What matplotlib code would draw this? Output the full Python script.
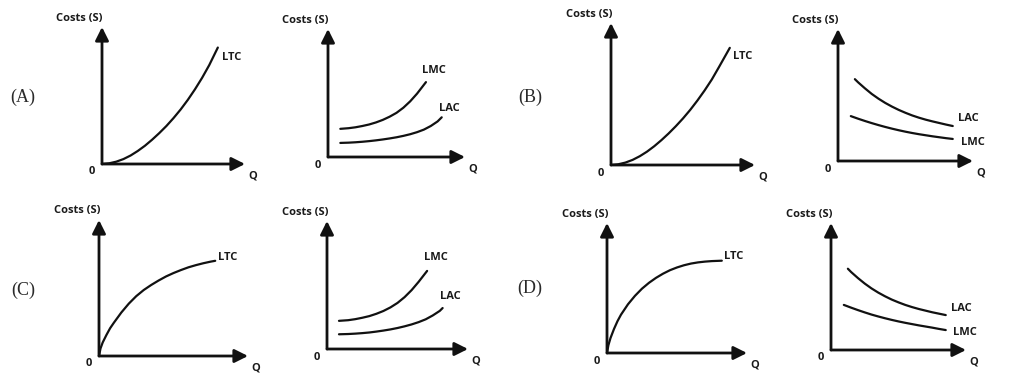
import matplotlib
matplotlib.use("Agg")
import matplotlib.pyplot as plt

# ---------------- data (axis units 0..10) ----------------
panel_letters = ["(A)", "(B)", "(C)", "(D)"]
y_axis_label = "Costs (S)"
x_axis_label = "Q"
origin_label = "0"

# LTC curves (left diagrams)
ltc_a_x = [0, 0.5, 1, 1.5, 2, 2.5, 3, 3.5, 4, 4.5, 5, 5.5, 6, 6.5, 7, 7.5, 8.1]
ltc_a_y = [0, 0.05, 0.17, 0.36, 0.62, 0.95, 1.33, 1.77, 2.25, 2.77, 3.35, 3.98, 4.68, 5.45, 6.29, 7.22, 8.5]
ltc_b_x = [0, 0.5, 1, 1.5, 2, 2.5, 3, 3.5, 4, 4.5, 5, 5.5, 6, 6.5, 7, 7.5, 8.25]
ltc_b_y = [0, 0.05, 0.17, 0.36, 0.62, 0.94, 1.32, 1.75, 2.22, 2.73, 3.28, 3.88, 4.54, 5.25, 6.02, 6.9, 8.25]
ltc_c_x = [0, 0.1, 0.25, 0.5, 0.75, 1, 1.5, 2, 2.5, 3, 3.5, 4, 4.5, 5, 5.5, 6, 6.5, 7, 7.5, 7.8]
ltc_c_y = [0, 0.55, 1.0, 1.55, 2.05, 2.45, 3.2, 3.85, 4.4, 4.85, 5.22, 5.55, 5.85, 6.1, 6.32, 6.52, 6.68, 6.82, 6.94, 7.0]
ltc_d_x = [0, 0.1, 0.25, 0.5, 0.75, 1, 1.5, 2, 2.5, 3, 3.5, 4, 4.5, 5, 5.5, 6, 6.5, 7, 7.5, 8.2]
ltc_d_y = [0, 0.6, 1.15, 1.85, 2.45, 2.95, 3.75, 4.4, 4.95, 5.4, 5.78, 6.1, 6.37, 6.58, 6.75, 6.88, 6.97, 7.03, 7.07, 7.1]

# LMC / LAC curves (right diagrams)
lmc_a_x = [0.9, 1.5, 2, 2.5, 3, 3.5, 4, 4.5, 5, 5.5, 6, 6.5, 7.15]
lmc_a_y = [2.2, 2.25, 2.32, 2.42, 2.54, 2.7, 2.9, 3.15, 3.45, 3.85, 4.35, 4.95, 5.85]
lac_a_x = [0.9, 1.5, 2, 2.5, 3, 3.5, 4, 4.5, 5, 5.5, 6, 6.5, 7, 7.5, 8, 8.3]
lac_a_y = [1.1, 1.12, 1.15, 1.19, 1.24, 1.3, 1.37, 1.45, 1.54, 1.65, 1.78, 1.94, 2.14, 2.42, 2.78, 3.1]

lac_b_x = [1.25, 1.5, 2, 2.5, 3, 3.5, 4, 4.5, 5, 5.5, 6, 6.5, 7, 7.5, 8, 8.5]
lac_b_y = [6.2, 5.95, 5.5, 5.08, 4.72, 4.4, 4.12, 3.87, 3.65, 3.45, 3.28, 3.13, 3.0, 2.88, 2.76, 2.65]
lmc_b_x = [0.95, 1.5, 2, 2.5, 3, 3.5, 4, 4.5, 5, 5.5, 6, 6.5, 7, 7.5, 8, 8.5]
lmc_b_y = [3.4, 3.2, 3.03, 2.87, 2.72, 2.58, 2.45, 2.33, 2.22, 2.12, 2.03, 1.95, 1.87, 1.8, 1.73, 1.67]

lmc_c_x = [0.85, 1.5, 2, 2.5, 3, 3.5, 4, 4.5, 5, 5.5, 6, 6.5, 7.1]
lmc_c_y = [2.2, 2.25, 2.33, 2.44, 2.57, 2.75, 2.97, 3.25, 3.6, 4.05, 4.6, 5.25, 6.1]
lac_c_x = [0.85, 1.5, 2, 2.5, 3, 3.5, 4, 4.5, 5, 5.5, 6, 6.5, 7, 7.5, 8, 8.2]
lac_c_y = [1.15, 1.17, 1.2, 1.24, 1.29, 1.36, 1.44, 1.53, 1.64, 1.77, 1.92, 2.1, 2.32, 2.62, 2.98, 3.2]

lac_d_x = [1.25, 1.5, 2, 2.5, 3, 3.5, 4, 4.5, 5, 5.5, 6, 6.5, 7, 7.5, 8, 8.5]
lac_d_y = [6.4, 6.13, 5.66, 5.23, 4.85, 4.52, 4.23, 3.97, 3.75, 3.55, 3.38, 3.23, 3.1, 2.97, 2.86, 2.75]
lmc_d_x = [0.95, 1.5, 2, 2.5, 3, 3.5, 4, 4.5, 5, 5.5, 6, 6.5, 7, 7.5, 8, 8.5]
lmc_d_y = [3.55, 3.33, 3.14, 2.96, 2.79, 2.64, 2.5, 2.37, 2.25, 2.14, 2.04, 1.94, 1.85, 1.76, 1.66, 1.57]

# ---------------- layout ----------------
W, H = 1024, 390
fig = plt.figure(figsize=(W / 100, H / 100), dpi=100)
fig.patch.set_facecolor("white")

PX = 0.72  # points per pixel at 100 dpi
lab_font = dict(family=["Open Sans", "DejaVu Sans"], fontsize=8, fontweight="bold",
                color="#1a1a1a")

# (origin_x, origin_y, tip_x, tip_y) in pixels, curves, label offsets (px)
panels = [
    ((102, 164, 245, 27), [(ltc_a_x, ltc_a_y, "LTC", (4, -10))]),
    ((328, 157, 465, 29), [(lmc_a_x, lmc_a_y, "LMC", (-4, 12)), (lac_a_x, lac_a_y, "LAC", (-3, 9))]),
    ((611, 165, 755, 23), [(ltc_b_x, ltc_b_y, "LTC", (3, -9))]),
    ((838, 161, 973, 29), [(lac_b_x, lac_b_y, "LAC", (5, 8)), (lmc_b_x, lmc_b_y, "LMC", (8, -4))]),
    ((99, 356, 248, 220), [(ltc_c_x, ltc_c_y, "LTC", (3, 3))]),
    ((327, 349, 468, 221), [(lmc_c_x, lmc_c_y, "LMC", (-3, 13)), (lac_c_x, lac_c_y, "LAC", (-3, 12))]),
    ((607, 353, 747, 223), [(ltc_d_x, ltc_d_y, "LTC", (2, 4))]),
    ((831, 350, 966, 223), [(lac_d_x, lac_d_y, "LAC", (5, 7)), (lmc_d_x, lmc_d_y, "LMC", (7, -2))]),
]

for (ox, oy, tx, ty), curves in panels:
    ax = fig.add_axes([ox / W, (H - oy) / H, (tx - ox) / W, (oy - ty) / H])
    ax.set_xlim(0, 10)
    ax.set_ylim(0, 10)
    ax.axis("off")
    arrow = dict(arrowstyle="-|>", lw=2.0, color="#111111", mutation_scale=20,
                 shrinkA=0, shrinkB=0)
    ax.annotate("", xy=(10, 0), xytext=(0, 0), arrowprops=arrow, annotation_clip=False)
    ax.annotate("", xy=(0, 10), xytext=(0, 0), arrowprops=arrow, annotation_clip=False)
    for xs, ys, name, (dx, dy) in curves:
        ax.plot(xs, ys, color="#111111", lw=1.6, solid_capstyle="round",
                solid_joinstyle="round", clip_on=False)
        ax.annotate(name, xy=(xs[-1], ys[-1]), xytext=(dx * PX, dy * PX),
                    textcoords="offset points", ha="left", va="center",
                    annotation_clip=False, **lab_font)
    ax.annotate(y_axis_label, xy=(0, 10), xytext=(1 * PX, 9 * PX),
                textcoords="offset points", ha="right", va="center",
                annotation_clip=False, **lab_font)
    ax.annotate(origin_label, xy=(0, 0), xytext=(-10 * PX, -8 * PX),
                textcoords="offset points", ha="center", va="center",
                annotation_clip=False, **lab_font)
    ax.annotate(x_axis_label, xy=(10, 0), xytext=(8 * PX, -12 * PX),
                textcoords="offset points", ha="center", va="center",
                annotation_clip=False, **lab_font)

letter_pos = [(23, 97), (530, 97), (23, 290), (530, 288)]
for txt, (lx, ly) in zip(panel_letters, letter_pos):
    fig.text(lx / W, (H - ly) / H, txt, ha="center", va="center",
             family=["Liberation Serif", "DejaVu Serif"], fontsize=13, color="#2a2a2a")

fig.savefig("out.png", dpi=100, facecolor="white")
